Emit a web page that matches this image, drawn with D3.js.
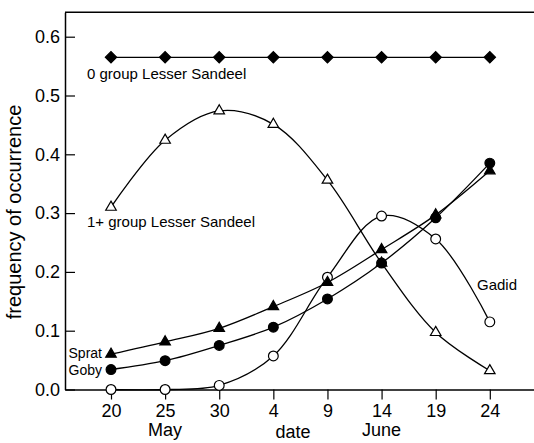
<!DOCTYPE html>
<html>
<head>
<meta charset="utf-8">
<script src="https://cdn.jsdelivr.net/npm/d3@7"></script>
<style>
	body { margin: 0; background: #fff; }
	svg { display: block; font-family: "Liberation Sans", Arial, sans-serif; }
</style>
</head>
<body>
<div id="chart"></div>
<script>
// sampling dates (2000 used only as a calendar year)
const dates = ["2000-05-20", "2000-05-25", "2000-05-30", "2000-06-04",
	"2000-06-09", "2000-06-14", "2000-06-19", "2000-06-24"];
const yTicks = [0, 0.1, 0.2, 0.3, 0.4, 0.5, 0.6];

const sandeel0 = [0.565, 0.565, 0.565, 0.565, 0.565, 0.565, 0.565, 0.565];
const sandeel1 = [0.310, 0.424, 0.474, 0.451, 0.356, 0.215, 0.097, 0.032];
const gadid    = [0.000, 0.000, 0.007, 0.057, 0.191, 0.295, 0.256, 0.115];
const goby     = [0.034, 0.049, 0.075, 0.106, 0.154, 0.215, 0.292, 0.385];
const sprat    = [0.060, 0.081, 0.104, 0.141, 0.182, 0.238, 0.297, 0.372];

const width = 534, height = 443;
const plotL = 65, plotR = 534, plotT = 12.3, plotB = 389.5;

const parse = d3.timeParse("%Y-%m-%d");
const days = dates.map(parse);

const svg = d3.select("#chart").append("svg")
	.attr("width", width).attr("height", height);

const x = d3.scaleTime()
	.domain([new Date(2000, 4, 15, 18), new Date(2000, 5, 28, 2)])
	.range([plotL, plotR]);
const y = d3.scaleLinear()
	.domain([0, 0.6415])
	.range([plotB, plotT]);

// frame: top line
svg.append("line")
	.attr("x1", plotL).attr("x2", plotR).attr("y1", plotT).attr("y2", plotT)
	.attr("stroke", "#000").attr("stroke-width", 1.5);

const xAxis = svg.append("g")
	.attr("transform", "translate(0," + plotB + ")")
	.call(d3.axisBottom(x).tickValues(days).tickFormat(d3.timeFormat("%-d"))
		.tickSizeInner(10).tickSizeOuter(0).tickPadding(5));

const yAxis = svg.append("g")
	.attr("transform", "translate(" + plotL + ",0)")
	.call(d3.axisLeft(y).tickValues(yTicks).tickFormat(d3.format(".1f"))
		.tickSizeInner(-10).tickSizeOuter(0).tickPadding(5));

[xAxis, yAxis].forEach(function(g){
	g.select(".domain").attr("stroke-width", 1.5);
	g.selectAll(".tick line").attr("stroke-width", 1.2);
	g.selectAll("text").attr("font-size", 18).attr("font-family", null).attr("fill", "#000");
});

// axis titles
svg.append("text").attr("x", x(parse("2000-05-25"))).attr("y", 436)
	.attr("text-anchor", "middle").attr("font-size", 18).text("May");
svg.append("text").attr("x", 293).attr("y", 438)
	.attr("text-anchor", "middle").attr("font-size", 18).text("date");
svg.append("text").attr("x", x(parse("2000-06-14"))).attr("y", 436)
	.attr("text-anchor", "middle").attr("font-size", 18).text("June");
svg.append("text")
	.attr("transform", "translate(21,212) rotate(-90)")
	.attr("text-anchor", "middle").attr("font-size", 20).text("frequency of occurrence");

const straight = d3.line().x((d, i) => x(days[i])).y(d => y(d));
const smooth = d3.line().x((d, i) => x(days[i])).y(d => y(d)).curve(d3.curveCatmullRom.alpha(0.5));

const series = [
	{ values: sandeel0, line: straight, symbol: "diamond", fill: "#000" },
	{ values: sandeel1, line: smooth, symbol: "triangle", fill: "#fff" },
	{ values: gadid, line: smooth, symbol: "circle", fill: "#fff" },
	{ values: sprat, line: smooth, symbol: "triangle", fill: "#000" },
	{ values: goby, line: smooth, symbol: "circle", fill: "#000" }
];

series.forEach(function(s){
	svg.append("path").attr("d", s.line(s.values))
		.attr("fill", "none").attr("stroke", "#000").attr("stroke-width", 1.3);
});

const shapes = {
	diamond: d3.symbol(d3.symbolSquare, 64),
	triangle: d3.symbol(d3.symbolTriangle, 48),
	circle: d3.symbol(d3.symbolCircle, 75)
};

series.forEach(function(s){
	svg.append("g").selectAll("path").data(s.values).join("path")
		.attr("transform", (d, i) => "translate(" + x(days[i]) + "," + y(d) + ")" +
			(s.symbol === "diamond" ? " rotate(45)" : ""))
		.attr("d", shapes[s.symbol])
		.attr("fill", s.fill).attr("stroke", "#000").attr("stroke-width", 1.2);
});

// series labels
const labels = [
	{ t: "0 group Lesser Sandeel", x: 87, y: 79, size: 15, anchor: "start" },
	{ t: "1+ group Lesser Sandeel", x: 87, y: 227, size: 15, anchor: "start" },
	{ t: "Gadid", x: 477, y: 290, size: 15, anchor: "start" },
	{ t: "Sprat", x: 102, y: 358, size: 14, anchor: "end" },
	{ t: "Goby", x: 102, y: 375, size: 14, anchor: "end" }
];
svg.append("g").selectAll("text").data(labels).join("text")
	.attr("x", d => d.x).attr("y", d => d.y)
	.attr("text-anchor", d => d.anchor)
	.attr("font-size", d => d.size)
	.text(d => d.t);
</script>
</body>
</html>
